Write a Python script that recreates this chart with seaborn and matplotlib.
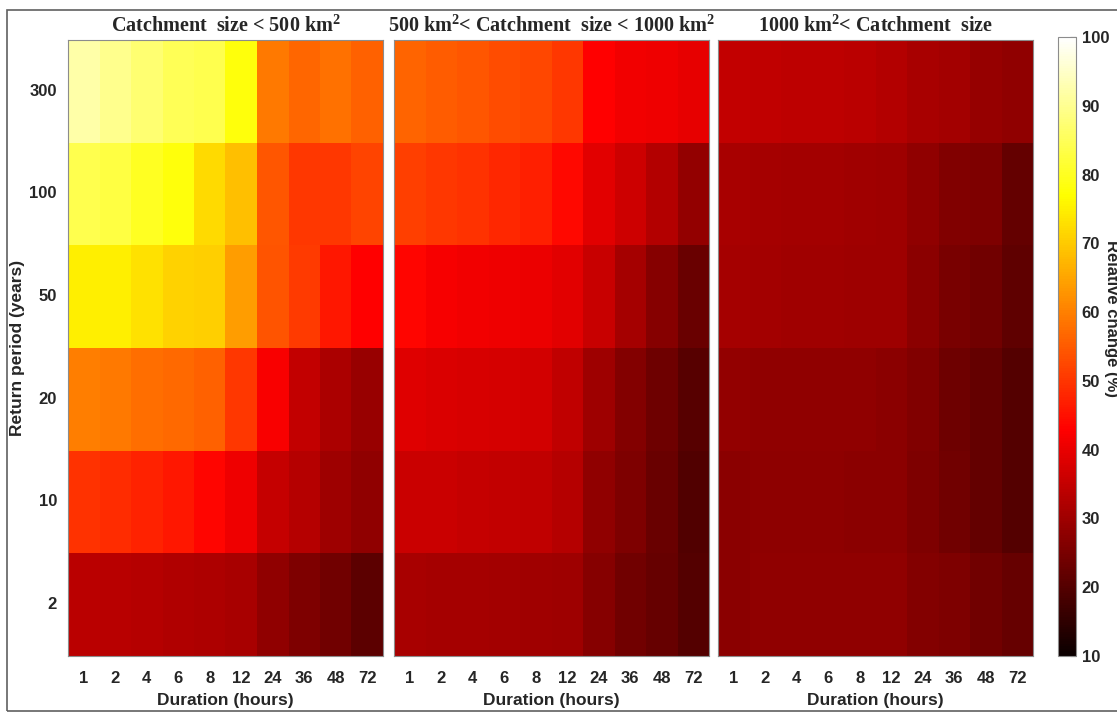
import numpy as np
import pandas as pd
import matplotlib
matplotlib.use("Agg")
import matplotlib.pyplot as plt
from matplotlib.patches import Rectangle
import seaborn as sns

# Axis categories
durations = ["1", "2", "4", "6", "8", "12", "24", "36", "48", "72"]
return_periods = ["300", "100", "50", "20", "10", "2"]

# Relative change (%) per return period (rows) and duration (columns)
small_catchments = [
    [92.0, 89.5, 87.0, 84.7, 84.0, 78.0, 59.0, 56.6, 58.0, 56.0],
    [84.0, 83.0, 80.0, 78.0, 72.0, 68.6, 54.3, 50.4, 50.4, 52.0],
    [75.0, 74.8, 73.0, 71.0, 70.5, 64.0, 54.0, 50.7, 46.0, 43.0],
    [59.7, 59.0, 57.6, 57.0, 56.0, 50.4, 42.0, 34.7, 31.7, 29.0],
    [49.7, 49.0, 47.4, 46.0, 43.5, 40.6, 35.2, 33.0, 30.0, 28.0],
    [33.7, 33.4, 33.0, 32.3, 32.0, 31.1, 28.0, 25.7, 24.0, 21.0],
]
medium_catchments = [
    [56.3, 55.0, 54.6, 53.0, 52.3, 50.4, 43.0, 41.0, 40.6, 39.6],
    [51.2, 50.2, 49.6, 48.2, 47.2, 44.0, 38.9, 36.3, 32.6, 28.5],
    [43.5, 41.8, 41.0, 40.6, 40.3, 38.9, 35.5, 30.9, 26.7, 22.9],
    [38.6, 38.0, 37.6, 37.2, 36.8, 34.4, 30.0, 26.2, 23.6, 20.3],
    [36.0, 35.7, 35.2, 34.9, 34.4, 33.1, 28.0, 25.5, 22.9, 19.8],
    [31.1, 30.9, 30.9, 30.6, 30.3, 29.8, 26.7, 24.0, 22.6, 20.0],
]
large_catchments = [
    [34.7, 34.4, 34.2, 34.0, 33.7, 32.6, 31.4, 30.6, 28.8, 28.0],
    [31.1, 30.9, 30.6, 30.6, 30.3, 30.0, 28.0, 26.0, 25.7, 22.0],
    [30.9, 30.6, 30.3, 30.3, 30.0, 29.8, 27.3, 25.0, 24.0, 21.3],
    [28.5, 28.2, 28.2, 28.2, 28.0, 27.5, 26.0, 23.6, 22.0, 20.0],
    [27.3, 27.8, 27.8, 27.8, 27.5, 27.3, 25.5, 24.0, 22.0, 20.0],
    [27.5, 28.0, 28.0, 28.0, 28.0, 28.0, 26.5, 25.7, 24.0, 22.4],
]

panel_titles = [
    r"Catchment  size < 500 km$^{2}$",
    r"500 km$^{2}$< Catchment  size < 1000 km$^{2}$",
    r"1000 km$^{2}$< Catchment  size",
]

sns.set_theme(style="white")
plt.rcParams["font.family"] = ["Liberation Sans", "DejaVu Sans"]
plt.rcParams["mathtext.fontset"] = "custom"
plt.rcParams["mathtext.rm"] = "Liberation Serif:bold"
plt.rcParams["mathtext.it"] = "Liberation Serif:bold"
plt.rcParams["mathtext.bf"] = "Liberation Serif:bold"
plt.rcParams["mathtext.default"] = "rm"

W, H = 1117, 715
fig = plt.figure(figsize=(W / 100, H / 100), dpi=100)

def px_axes(x0, y0, x1, y1):
    return fig.add_axes([x0 / W, 1 - y1 / H, (x1 - x0) / W, (y1 - y0) / H])

axes = [
    px_axes(68, 40, 383, 656),
    px_axes(394, 40, 709, 656),
    px_axes(718, 40, 1033, 656),
]
cax = px_axes(1058, 37, 1076, 656)

text_color = "#262626"
datasets = [small_catchments, medium_catchments, large_catchments]

for i, (ax, data, title) in enumerate(zip(axes, datasets, panel_titles)):
    df = pd.DataFrame(data, index=return_periods, columns=durations)
    sns.heatmap(
        df, ax=ax, cmap="hot", vmin=10, vmax=100,
        cbar=(i == 0), cbar_ax=cax if i == 0 else None,
        linewidths=0, square=False,
    )
    ax.set_title(title, family="Liberation Serif", fontweight="bold",
                 fontsize=14.5, color=text_color, pad=6)
    ax.set_xlabel("Duration (hours)", fontsize=12.5, fontweight="bold",
                  color=text_color, labelpad=5)
    ax.tick_params(axis="both", direction="in", length=4, width=0.8,
                   color="#404040", top=True, right=True, bottom=True,
                   left=True, labelsize=12, labelcolor=text_color)
    ax.tick_params(axis="x", pad=11)
    ax.tick_params(axis="y", pad=8)
    for lbl in ax.get_xticklabels():
        lbl.set_fontweight("bold")
        lbl.set_rotation(0)
    if i == 0:
        ax.set_ylabel("Return period (years)", fontsize=12.5,
                      fontweight="bold", color=text_color, labelpad=3)
        for lbl in ax.get_yticklabels():
            lbl.set_fontweight("bold")
            lbl.set_rotation(0)
    else:
        ax.set_ylabel("")
        ax.set_yticklabels([])
    for s in ax.spines.values():
        s.set_visible(True)
        s.set_color("#8c8c8c")
        s.set_linewidth(0.8)

# Colorbar styling
cbar = axes[0].collections[0].colorbar
cbar.set_ticks(np.arange(10, 101, 10))
cax.tick_params(direction="in", length=4, width=0.8, color="#404040",
                labelsize=12, labelcolor=text_color, pad=4)
for lbl in cax.get_yticklabels():
    lbl.set_fontweight("bold")
cbar.outline.set_edgecolor("#8c8c8c")
cbar.outline.set_linewidth(0.8)
fig.text(1111 / W, 1 - 318 / H, "Relative change (%)", rotation=-90,
         ha="center", va="center", fontsize=12, fontweight="bold",
         color=text_color)

# Frame around the whole figure
fig.patches.append(Rectangle((7 / W, 1 - 711 / H), (W + 5 - 7) / W,
                             (711 - 10) / H, transform=fig.transFigure,
                             fill=False, edgecolor="#606060", linewidth=1.2))

fig.savefig("out.png", dpi=100)
